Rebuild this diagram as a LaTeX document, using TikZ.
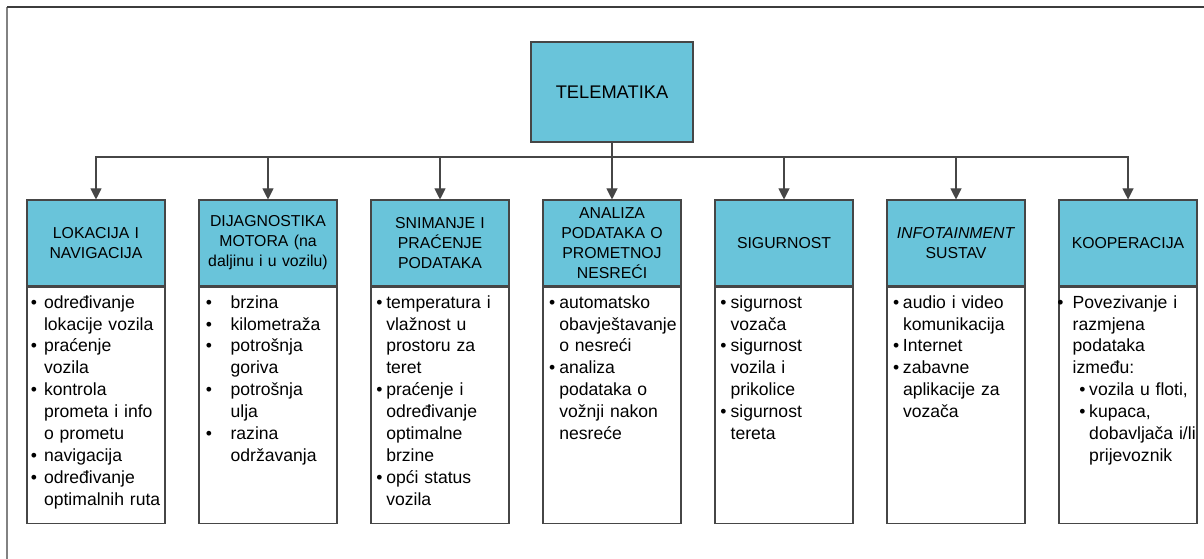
\documentclass[tikz,border=0pt]{standalone}
\usepackage{fontspec}
\setmainfont{Liberation Sans}
\usepackage{tikz}
\usetikzlibrary{arrows.meta, positioning, calc}
\definecolor{mycyan}{RGB}{105,196,218}
\definecolor{myline}{RGB}{70,70,70}
\definecolor{myframe}{RGB}{60,60,60}
\definecolor{myframeside}{RGB}{130,130,130}
% bullet line: offset, hang, text
\newcommand{\bl}[3]{\parskip=0pt\relax\noindent\hangindent=\dimexpr#1+#2\relax\hangafter=1\hspace*{#1}\makebox[#2][l]{\textbullet}#3\par}
\tikzset{
  topbox/.style={rectangle, draw=myline, fill=mycyan, minimum width=3.24cm,
    minimum height=2.0cm, font=\fontsize{10.4}{12.5}\selectfont, line width=0.6pt},
  headbox/.style={rectangle, draw=myline, fill=mycyan, minimum width=2.76cm,
    minimum height=1.72cm, text width=2.6cm, inner xsep=0.08cm, align=center,
    font=\fontsize{9}{11.4}\selectfont, line width=0.6pt},
  listbox/.style={rectangle, draw=myline, fill=white, text width=2.76cm,
    inner xsep=0pt, inner ysep=0pt, text height=0.42cm, text depth=4.30cm,
    align=left, font=\fontsize{10}{12.5}\selectfont, line width=0.6pt},
  arrow/.style={-{Triangle[width=0.22cm, length=0.22cm]}, line width=0.6pt, color=myline},
  line/.style={draw, line width=0.6pt, color=myline}
}
\begin{document}
\begin{tikzpicture}
  \useasboundingbox (0,0) rectangle (24.08,11.18);
  % frame
  \draw[line width=0.6pt, color=myframeside] (0.14,0) -- (0.14,11.04);
  \draw[line width=0.8pt, color=myframe] (0.14,11.04) -- (24.08,11.04);

  % Title (Top)
  \node[topbox] (title) at (12.24, 9.34) {TELEMATIKA};

  % Headers
  \node[headbox] (lok) at (1.92, 6.32) {LOKACIJA I\\NAVIGACIJA};
  \node[headbox] (dij) at (5.36, 6.32) {DIJAGNOSTIKA\\MOTORA (na\\daljinu i u vozilu)};
  \node[headbox] (sni) at (8.80, 6.32) {SNIMANJE I\\PRAĆENJE\\PODATAKA};
  \node[headbox] (ana) at (12.24, 6.32) {ANALIZA\\PODATAKA O\\PROMETNOJ\\NESREĆI};
  \node[headbox] (sig) at (15.68, 6.32) {SIGURNOST};
  \node[headbox] (inf) at (19.12, 6.32) {\textit{INFOTAINMENT}\\SUSTAV};
  \node[headbox] (koo) at (22.56, 6.32) {KOOPERACIJA};

  % Lists
  \node[listbox, anchor=north] (lokL) at (lok.south) {%
    \bl{2.2pt}{7.5pt}{određivanje\newline lokacije vozila}
    \bl{2.2pt}{7.5pt}{praćenje\newline vozila}
    \bl{2.2pt}{7.5pt}{kontrola\newline prometa i info\newline o prometu}
    \bl{2.2pt}{7.5pt}{navigacija}
    \bl{2.2pt}{7.5pt}{određivanje\newline optimalnih ruta}};
  \node[listbox, anchor=north] (dijL) at (dij.south) {%
    \bl{3.9pt}{14.1pt}{brzina}
    \bl{3.9pt}{14.1pt}{kilometraža}
    \bl{3.9pt}{14.1pt}{potrošnja\newline goriva}
    \bl{3.9pt}{14.1pt}{potrošnja\newline ulja}
    \bl{3.9pt}{14.1pt}{razina\newline održavanja}};
  \node[listbox, anchor=north] (sniL) at (sni.south) {%
    \bl{3.1pt}{5.6pt}{temperatura i\newline vlažnost u\newline prostoru za\newline teret}
    \bl{3.1pt}{5.6pt}{praćenje i\newline određivanje\newline optimalne\newline brzine}
    \bl{3.1pt}{5.6pt}{opći status\newline vozila}};
  \node[listbox, anchor=north] (anaL) at (ana.south) {%
    \bl{3.5pt}{5.8pt}{automatsko\newline obavještavanje\newline o nesreći}
    \bl{3.5pt}{5.8pt}{analiza\newline podataka o\newline vožnji nakon\newline nesreće}};
  \node[listbox, anchor=north] (sigL) at (sig.south) {%
    \bl{3.1pt}{5.8pt}{sigurnost\newline vozača}
    \bl{3.1pt}{5.8pt}{sigurnost\newline vozila i\newline prikolice}
    \bl{3.1pt}{5.8pt}{sigurnost\newline tereta}};
  \node[listbox, anchor=north] (infL) at (inf.south) {%
    \bl{3.5pt}{5.6pt}{audio i video\newline komunikacija}
    \bl{3.5pt}{5.6pt}{Internet}
    \bl{3.5pt}{5.6pt}{zabavne\newline aplikacije za\newline vozača}};
  \node[listbox, anchor=north] (kooL) at (koo.south) {%
    \bl{-0.9pt}{8.7pt}{Povezivanje i\newline razmjena\newline podataka\newline između:}
    \bl{11.6pt}{5.6pt}{vozila u floti,}
    \bl{11.6pt}{5.6pt}{kupaca,\newline dobavljača i/li\newline prijevoznik}};

  % Connections
  \coordinate (bus) at (12.24, 8.04);
  \draw[line] (title.south) -- (bus);
  \foreach \n in {lok,dij,sni,ana,sig,inf,koo}
    \draw[arrow] (bus) -| (\n.north);
\end{tikzpicture}
\end{document}
